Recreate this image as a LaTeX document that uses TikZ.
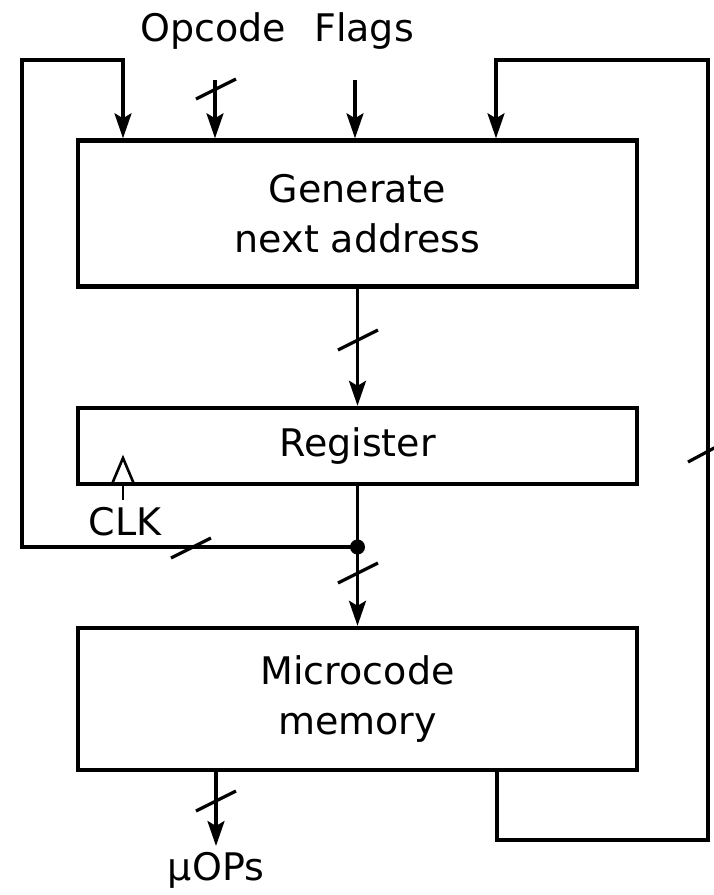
\documentclass[tikz,border=0pt]{standalone}
\usepackage{fontspec}
\setmainfont{DejaVu Sans}
\usetikzlibrary{arrows.meta,calc}
\begin{document}
\begin{tikzpicture}[x=1pt,y=-1pt,line width=3.2pt,
  font=\fontsize{38}{50}\selectfont,
  blk/.style={draw,line width=4.4pt,minimum width=559pt,align=center,inner sep=0pt},
  arr/.style={-{Stealth[length=25pt,width=17pt,inset=5pt]}},
  busmark/.pic={\draw[line width=3.2pt] (-20,10) -- (20,-10);},
  lbl/.style={inner sep=0pt}]
\useasboundingbox (0,0) rectangle (713,895);

% blocks
\node[blk,minimum height=146pt] (gen) at (357.5,213.5) {Generate\\next address};
\node[blk,minimum height=76pt] (reg) at (357.5,446) {\raisebox{-3pt}{Register}};
\node[blk,minimum height=142pt] (mem) at (357.5,699) {Microcode\\memory};

% inputs at the top
\node[lbl] (opc) at (213,31) {Opcode};
\node[lbl] (flg) at (364,31) {Flags};
\coordinate (opcin) at (215,80);
\coordinate (flgin) at (355,80);
\draw[arr] (opcin) -- (opcin |- gen.north);
\draw[arr] (flgin) -- (flgin |- gen.north);
\pic at (216,89) {busmark};

% next address into register
\draw[arr] (gen.south) -- (reg.north);
\pic at (358,340) {busmark};

% register output, junction and feedback to the left
\coordinate (j) at (reg.south |- 0,547);
\draw[arr] (reg.south) -- (mem.north);
\fill (j) circle (7.5pt);
\pic at (358,573) {busmark};
\coordinate (lt) at (22,60);
\coordinate (lin) at (123,60);
\draw[arr] (j) -| (lt) -- (lin) -- (lin |- gen.north);
\pic at (191,548) {busmark};

% clock input
\coordinate (clk) at (123,484);
\draw[line width=2.6pt] ($(clk)+(-11,0)$) -- ($(clk)+(0,-26)$) -- ($(clk)+(11,0)$);
\draw[line width=2.6pt] (clk) -- ++(0,16);
\node[lbl] (clkt) at (125,522) {CLK};

% feedback from memory on the right
\coordinate (mo) at (497,770);
\coordinate (rb) at (708,840);
\coordinate (rt) at (708,60);
\coordinate (rin) at (496,60);
\draw[arr] (mo) |- (rb) -- (rt) -- (rin) -- (rin |- gen.north);
\draw[line width=3.2pt] (688,462) -- (716,447);

% micro-op output
\coordinate (mu) at (216,770);
\node[lbl] (uops) at (216,870) {μOPs};
\draw[arr] (mu) -- (216,846);
\pic at (216,801) {busmark};
\end{tikzpicture}
\end{document}
